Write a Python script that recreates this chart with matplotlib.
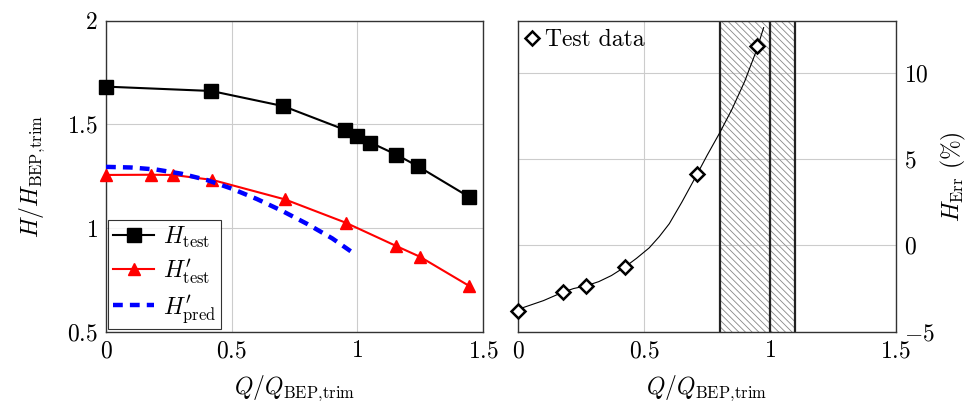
import matplotlib
matplotlib.use('Agg')
import matplotlib.pyplot as plt
from matplotlib.ticker import FuncFormatter

plt.rcParams['font.family'] = 'serif'
plt.rcParams['font.serif'] = ['cmr10']
plt.rcParams['mathtext.fontset'] = 'cm'
plt.rcParams['axes.formatter.use_mathtext'] = True
plt.rcParams['hatch.linewidth'] = 0.6

# left panel: normalised head curves
q_test = [0.0, 0.419, 0.705, 0.950, 0.999, 1.052, 1.155, 1.242, 1.443]
h_test = [1.682, 1.661, 1.588, 1.474, 1.445, 1.412, 1.354, 1.297, 1.151]

q_test_p = [0.0, 0.179, 0.268, 0.423, 0.712, 0.953, 1.155, 1.248, 1.443]
h_test_p = [1.256, 1.257, 1.256, 1.232, 1.138, 1.026, 0.913, 0.862, 0.722]

q_pred = [0.0, 0.1, 0.2, 0.3, 0.4, 0.5, 0.6, 0.7, 0.8, 0.9, 0.977]
h_pred = [1.295, 1.292, 1.282, 1.262, 1.232, 1.19, 1.14, 1.083, 1.02, 0.95, 0.885]

# right panel: head error
q_err = [0.0, 0.176, 0.268, 0.424, 0.710, 0.947]
h_err = [-3.82, -2.70, -2.37, -1.27, 4.13, 11.53]

q_fit = [0.0, 0.05, 0.1, 0.176, 0.22, 0.268, 0.32, 0.37, 0.424, 0.47, 0.52, 0.56,
         0.6, 0.65, 0.71, 0.75, 0.8, 0.85, 0.9, 0.947, 0.975]
h_fit = [-3.7, -3.45, -3.2, -2.72, -2.5, -2.35, -2.1, -1.75, -1.25, -0.75, -0.15, 0.5,
         1.25, 2.5, 4.1, 5.2, 6.5, 7.9, 9.5, 11.3, 12.6]

bands = [(0.8, 1.0), (1.0, 1.1)]
band_edges = [0.8, 1.0, 1.1]

fmt = FuncFormatter(lambda v, p: f'${v:g}$')
fs = 17
sub = r'\mathrm{BEP,\!trim}'

fig = plt.figure(figsize=(9.71, 4.01), dpi=100)
ax1 = fig.add_axes([0.1092, 0.1728, 0.3883, 0.7756])
ax2 = fig.add_axes([0.5338, 0.1728, 0.3887, 0.7756])

ax1.plot(q_test, h_test, color='black', lw=1.5, marker='s', ms=10, label=r'$H_{\mathrm{test}}$',
         zorder=3, clip_on=False)
ax1.plot(q_test_p, h_test_p, color='red', lw=1.5, marker='^', ms=9, label=r"$H^{\prime}_{\mathrm{test}}$",
         zorder=3, clip_on=False)
ax1.plot(q_pred, h_pred, color='blue', lw=3.2, ls=(0, (2.2, 1.6)), label=r"$H^{\prime}_{\mathrm{pred}}$", zorder=4)
ax1.set_xlim(0, 1.5)
ax1.set_ylim(0.5, 2)
ax1.set_xticks([0, 0.5, 1, 1.5])
ax1.set_yticks([0.5, 1, 1.5, 2])
ax1.set_xlabel(r'$Q/Q_{%s}$' % sub, fontsize=fs, labelpad=8)
ax1.set_ylabel(r'$H/H_{%s}$' % sub, fontsize=fs, labelpad=14)
leg = ax1.legend(loc='lower left', fontsize=fs, frameon=True, fancybox=False,
                 edgecolor='black', borderaxespad=0.1, handlelength=1.75,
                 labelspacing=0.3, borderpad=0.2, handletextpad=0.35)
leg.get_frame().set_linewidth(0.8)

for lo, hi in bands:
    ax2.axvspan(lo, hi, facecolor='none', edgecolor='#888888', hatch='\\' * 5, linewidth=0, zorder=1)
for e in band_edges:
    ax2.axvline(e, color='#222222', lw=1.6, zorder=2)
ax2.plot(q_fit, h_fit, color='black', lw=0.8, zorder=3)
ax2.plot(q_err, h_err, ls='none', marker='D', ms=7.5, mfc='white', mec='black', mew=1.8,
         label='Test data', zorder=4, clip_on=False)
ax2.set_xlim(0, 1.5)
ax2.set_ylim(-5, 13)
ax2.set_xticks([0, 0.5, 1, 1.5])
ax2.set_yticks([-5, 0, 5, 10])
ax2.yaxis.tick_right()
ax2.yaxis.set_label_position('right')
ax2.set_xlabel(r'$Q/Q_{%s}$' % sub, fontsize=fs, labelpad=8)
ax2.set_ylabel(r'$H_{\mathrm{Err}}$ (%)', fontsize=fs, labelpad=3)
ax2.legend(loc='upper left', fontsize=fs, frameon=False, handlelength=0.5,
           handletextpad=0.3, borderaxespad=0.15, borderpad=0.2)

for ax in (ax1, ax2):
    ax.grid(True, color='#cccccc', lw=0.8, zorder=0)
    ax.set_axisbelow(True)
    ax.xaxis.set_major_formatter(fmt)
    ax.yaxis.set_major_formatter(fmt)
    ax.tick_params(labelsize=fs, length=0, pad=6)
    for s in ax.spines.values():
        s.set_color('#333333')
        s.set_linewidth(1.0)

plt.savefig('out.png', dpi=100)
